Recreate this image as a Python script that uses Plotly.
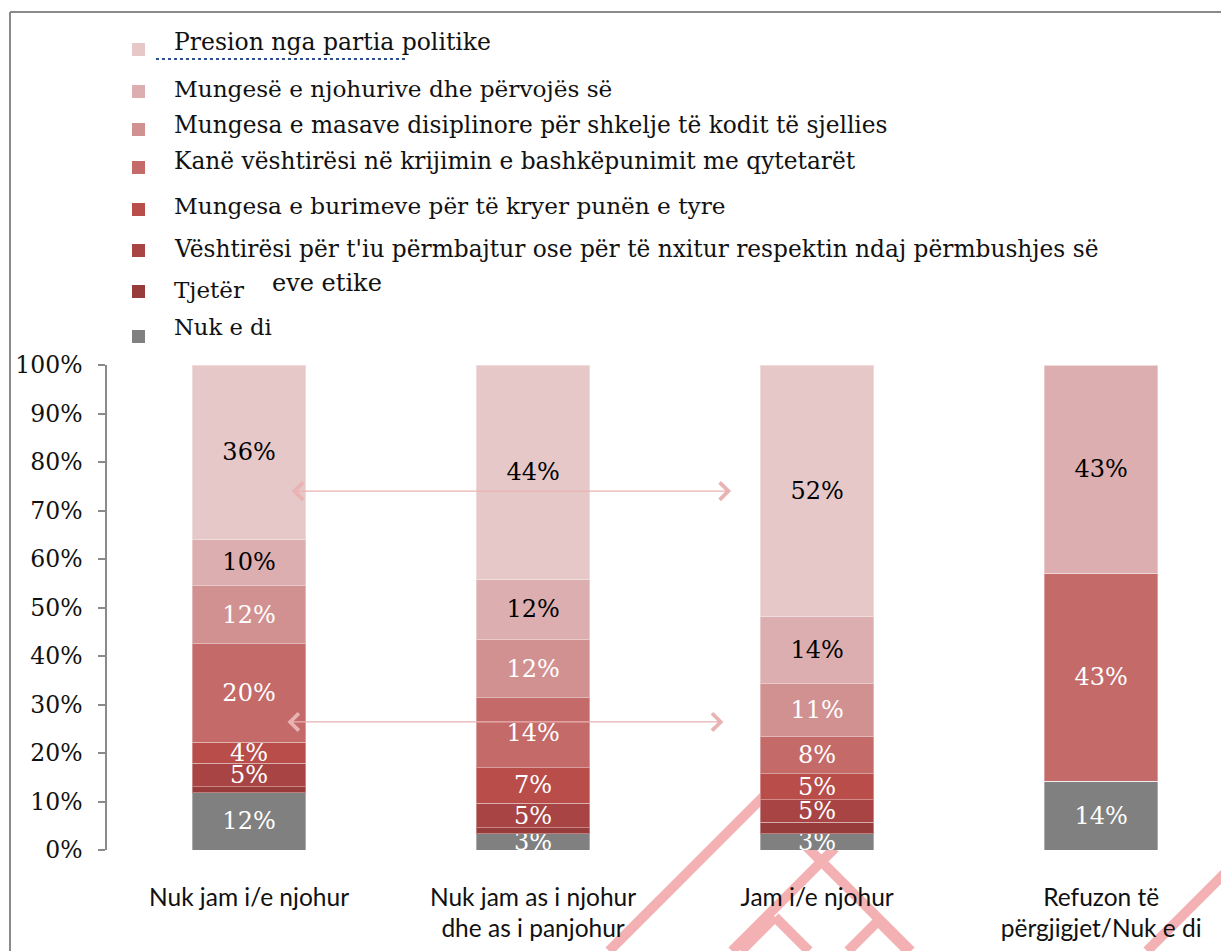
import plotly.graph_objects as go

# reference canvas is 1229x951; the page body adds an 8px margin,
# so the figure is drawn 8px smaller and all pixel positions below
# are given in reference-canvas pixels.
OFF = 8
W, H = 1229 - OFF, 951 - OFF
PLOT_L, PLOT_R, PLOT_T, PLOT_B = 107, 1229, 365, 850  # reference pixels
PLOT_W = PLOT_R - PLOT_L
PLOT_H = PLOT_B - PLOT_T

categories = [
    "Nuk jam i/e njohur",
    "Nuk jam as i njohur<br>dhe as i panjohur",
    "Jam i/e njohur",
    "Refuzon të<br>përgjigjet/Nuk e di",
]

# bottom -> top stacking order
series_names = [
    "Nuk e di",
    "Tjetër",
    "Vështirësi për t'iu përmbajtur ose për të nxitur respektin ndaj përmbushjes së",
    "Mungesa e burimeve për të kryer punën e tyre",
    "Kanë vështirësi në krijimin e bashkëpunimit me qytetarët",
    "Mungesa e masave disiplinore për shkelje të kodit të sjellies",
    "Mungesë e njohurive dhe përvojës së",
    "Presion nga partia politike",
]

nuk_e_di = [11.8, 3.4, 3.3, 14.2]
tjeter = [1.2, 1.2, 2.4, 0]
veshtiresi_respekt = [4.9, 5.0, 4.7, 0]
mungesa_burimeve = [4.3, 7.4, 5.3, 0]
veshtiresi_bashkepunim = [20.3, 14.4, 7.6, 42.9]
mungesa_masave = [12.0, 12.0, 11.0, 0]
mungesa_njohurive = [9.6, 12.4, 13.9, 42.9]
presion_partia = [35.9, 44.2, 51.8, 0]

series_values = [
    nuk_e_di, tjeter, veshtiresi_respekt, mungesa_burimeve,
    veshtiresi_bashkepunim, mungesa_masave, mungesa_njohurive, presion_partia,
]

colors = ["#808080", "#983C3B", "#A84544", "#B84D4A",
          "#C46A69", "#D29191", "#DCAEAF", "#E6C8C9"]
label_colors = ["white"] * 6 + ["black", "black"]

y_ticks = list(range(0, 101, 10))

SERIF = "DejaVu Serif"
SANS = "Lato"


def px_x(x):
    return (x - PLOT_L) / PLOT_W


def px_y(y):
    return (PLOT_B - y) / PLOT_H


fig = go.Figure()
for name, vals, col, tcol in zip(series_names, series_values, colors, label_colors):
    fig.add_trace(go.Bar(
        x=list(range(len(categories))),
        y=vals,
        name=name,
        width=0.4,
        marker=dict(color=col, line=dict(color="rgba(255,255,255,0.35)", width=1)),
        text=[f"{v:.0f}%" if v >= 3 else "" for v in vals],
        textposition="inside",
        insidetextanchor="middle",
        constraintext="none",
        textangle=0,
        textfont=dict(family=SERIF, size=24, color=tcol),
        showlegend=False,
    ))

shapes = []
# watermark stripes (decorative, behind the bars)
stripes = [
    ((609, 951), (772, 788)),
    ((805, 845), (911, 951)),
    ((835, 848), (732, 951)),
    ((775, 917), (741, 951)),
    ((775, 917), (809, 951)),
    ((878, 921), (848, 951)),
    ((878, 921), (908, 951)),
    ((1232, 866), (1147, 951)),
]
for (x0, y0), (x1, y1) in stripes:
    shapes.append(dict(type="line", xref="paper", yref="paper",
                       x0=px_x(x0), y0=px_y(y0), x1=px_x(x1), y1=px_y(y1),
                       line=dict(color="#F3B1B4", width=10), layer="below"))

# outer frame
shapes.append(dict(type="line", xref="paper", yref="paper",
                   x0=px_x(10), y0=px_y(12), x1=px_x(10), y1=px_y(960),
                   line=dict(color="#8A8A8A", width=2)))
shapes.append(dict(type="line", xref="paper", yref="paper",
                   x0=px_x(10), y0=px_y(12), x1=px_x(1240), y1=px_y(12),
                   line=dict(color="#8A8A8A", width=2)))

# clipped blue dotted fragment under first legend entry
shapes.append(dict(type="line", xref="paper", yref="paper",
                   x0=px_x(156), y0=px_y(59), x1=px_x(405), y1=px_y(59),
                   line=dict(color="#2F4F8F", width=2, dash="dot")))

annotations = []
# custom legend: (text centre y, marker centre y, font size)
legend_pos = [
    (42, 50, 23.5),
    (88, 92, 23.2),
    (124, 130, 23.3),
    (161, 168, 23.3),
    (205, 210, 23.2),
    (248, 251, 23.3),
    (290, 292, 23),
    (327, 337, 22.7),
]
legend_order = list(range(len(series_names)))[::-1]
for idx, (ty, my, fs) in zip(legend_order, legend_pos):
    shapes.append(dict(type="rect", xref="paper", yref="paper",
                       x0=px_x(132), x1=px_x(145), y0=px_y(my - 7), y1=px_y(my + 6),
                       fillcolor=colors[idx], line=dict(width=0)))
    annotations.append(dict(xref="paper", yref="paper", x=px_x(172), y=px_y(ty),
                            text=series_names[idx], showarrow=False,
                            xanchor="left", yanchor="middle",
                            font=dict(family=SERIF, size=fs, color="#111111")))
annotations.append(dict(xref="paper", yref="paper", x=px_x(270), y=px_y(283),
                        text="eve etike", showarrow=False,
                        xanchor="left", yanchor="middle",
                        font=dict(family=SERIF, size=24, color="#111111")))

# double headed comparison arrows
for (xa, xb, yv) in [(0.145, 1.697, 74.0), (0.13, 1.67, 26.4)]:
    annotations.append(dict(x=xb, y=yv, ax=xa, ay=yv, xref="x", yref="y",
                            axref="x", ayref="y", text="", showarrow=True,
                            arrowside="end+start", arrowhead=4, startarrowhead=4,
                            arrowsize=2.8, startarrowsize=2.8, arrowwidth=1.2,
                            arrowcolor="#E9B3B4"))

fig.update_layout(
    width=W,
    height=H,
    margin=dict(l=PLOT_L - OFF, r=W - (PLOT_R - OFF), t=PLOT_T - OFF,
                b=H - (PLOT_B - OFF), pad=0),
    barmode="stack",
    plot_bgcolor="white",
    paper_bgcolor="white",
    showlegend=False,
    shapes=shapes,
    annotations=annotations,
    xaxis=dict(
        range=[-0.5, 3.45],
        tickmode="array",
        tickvals=list(range(len(categories))),
        ticktext=categories,
        showline=False,
        showgrid=False,
        zeroline=False,
        ticks="",
        ticklabelstandoff=30,
        tickfont=dict(family=SANS, size=24.5, color="#111111"),
    ),
    yaxis=dict(
        range=[0, 100],
        tickmode="array",
        tickvals=y_ticks,
        ticktext=[f"{v}%" for v in y_ticks],
        showline=True,
        linecolor="#8A8A8A",
        linewidth=1.5,
        ticks="outside",
        ticklen=7,
        tickcolor="#8A8A8A",
        tickwidth=1.5,
        showgrid=False,
        zeroline=False,
        ticklabelstandoff=11,
        tickfont=dict(family=SERIF, size=23.5, color="#111111"),
    ),
)

fig.write_html("out.html")
